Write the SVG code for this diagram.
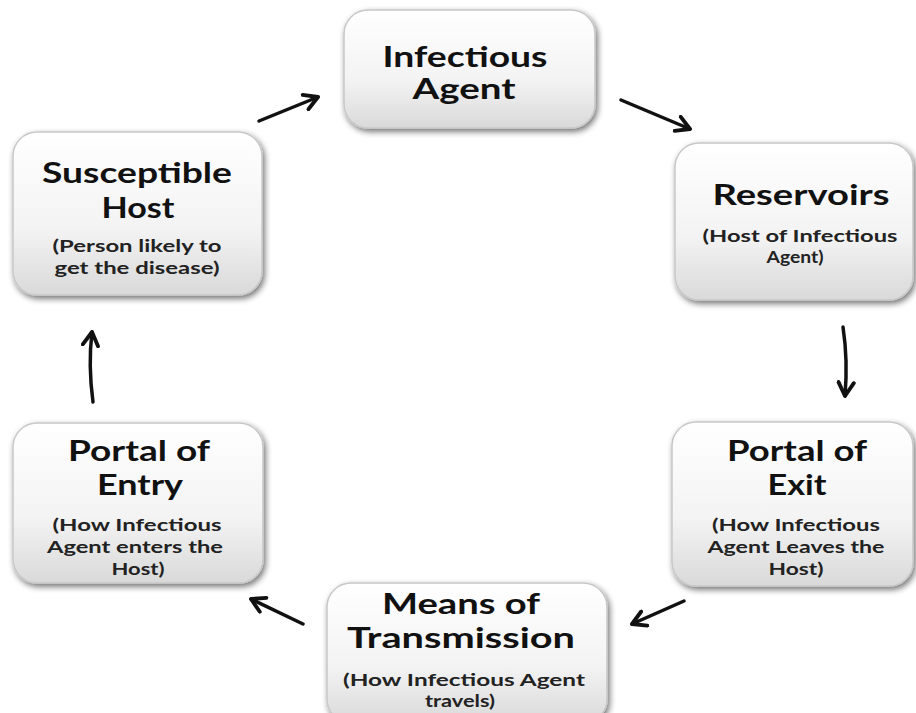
<svg xmlns="http://www.w3.org/2000/svg" width="916" height="713" viewBox="0 0 916 713">
<defs>
<linearGradient id="g" x1="0" y1="0" x2="0" y2="1">
<stop offset="0" stop-color="#ffffff"/>
<stop offset="0.6" stop-color="#f3f3f3"/>
<stop offset="1" stop-color="#d9d9d9"/>
</linearGradient>
<filter id="sh" x="-10%" y="-10%" width="125%" height="125%">
<feGaussianBlur in="SourceAlpha" stdDeviation="3"/>
<feOffset dx="2" dy="3" result="b"/>
<feComponentTransfer><feFuncA type="linear" slope="0.55"/></feComponentTransfer>
<feMerge><feMergeNode/><feMergeNode in="SourceGraphic"/></feMerge>
</filter>
<marker id="ah" viewBox="0 0 10 10" refX="8" refY="5" markerWidth="5.5" markerHeight="5.5" orient="auto" markerUnits="strokeWidth">
<path d="M1,1 L8,5 L1,9" fill="none" stroke="#111" stroke-width="2" stroke-linecap="round" stroke-linejoin="round"/>
</marker>
</defs>
<style>
.box{fill:url(#g);stroke:#c8c8c8;stroke-width:1.5;filter:url(#sh)}
.t{font-family:Lato,"Open Sans","Liberation Sans",sans-serif;font-weight:bold;font-size:28px;fill:#111;text-anchor:middle}
.s{font-family:Lato,"Open Sans","Liberation Sans",sans-serif;font-weight:bold;font-size:17px;fill:#222;text-anchor:middle}
.c{fill:none;stroke:#111;stroke-width:3.5;stroke-linecap:round;marker-end:url(#ah)}
</style>
<rect width="916" height="713" fill="#fff"/>
<g id="infectious-agent">
<rect class="box" x="344" y="10" width="251" height="118" rx="24"/>
<text class="t" x="465" y="67" textLength="165" lengthAdjust="spacingAndGlyphs">Infectious</text>
<text class="t" x="464" y="99" textLength="103" lengthAdjust="spacingAndGlyphs">Agent</text>
</g>
<g id="reservoirs">
<rect class="box" x="675" y="143" width="238" height="157" rx="24"/>
<text class="t" x="801" y="205" textLength="177" lengthAdjust="spacingAndGlyphs">Reservoirs</text>
<text class="s" x="800" y="242" textLength="195" lengthAdjust="spacingAndGlyphs">(Host of Infectious</text>
<text class="s" x="795" y="263" textLength="57" lengthAdjust="spacingAndGlyphs">Agent)</text>
</g>
<g id="portal-exit">
<rect class="box" x="672" y="422" width="241" height="164" rx="24"/>
<text class="t" x="797" y="461" textLength="140" lengthAdjust="spacingAndGlyphs">Portal of</text>
<text class="t" x="797" y="495" textLength="59" lengthAdjust="spacingAndGlyphs">Exit</text>
<text class="s" x="796" y="531" textLength="168" lengthAdjust="spacingAndGlyphs">(How Infectious</text>
<text class="s" x="796" y="553" textLength="177" lengthAdjust="spacingAndGlyphs">Agent Leaves the</text>
<text class="s" x="796" y="575" textLength="55" lengthAdjust="spacingAndGlyphs">Host)</text>
</g>
<g id="means-transmission">
<rect class="box" x="327" y="583" width="280" height="140" rx="24"/>
<text class="t" x="461" y="614" textLength="158" lengthAdjust="spacingAndGlyphs">Means of</text>
<text class="t" x="461" y="648" textLength="228" lengthAdjust="spacingAndGlyphs">Transmission</text>
<text class="s" x="464" y="686" textLength="242" lengthAdjust="spacingAndGlyphs">(How Infectious Agent</text>
<text class="s" x="460" y="707" textLength="70" lengthAdjust="spacingAndGlyphs">travels)</text>
</g>
<g id="portal-entry">
<rect class="box" x="13" y="423" width="250" height="160" rx="24"/>
<text class="t" x="139" y="461" textLength="142" lengthAdjust="spacingAndGlyphs">Portal of</text>
<text class="t" x="140" y="495" textLength="86" lengthAdjust="spacingAndGlyphs">Entry</text>
<text class="s" x="137" y="531" textLength="169" lengthAdjust="spacingAndGlyphs">(How Infectious</text>
<text class="s" x="135" y="553" textLength="176" lengthAdjust="spacingAndGlyphs">Agent enters the</text>
<text class="s" x="138" y="575" textLength="53" lengthAdjust="spacingAndGlyphs">Host)</text>
</g>
<g id="susceptible-host">
<rect class="box" x="13" y="132" width="249" height="163" rx="24"/>
<text class="t" x="137" y="183" textLength="190" lengthAdjust="spacingAndGlyphs">Susceptible</text>
<text class="t" x="138" y="218" textLength="73" lengthAdjust="spacingAndGlyphs">Host</text>
<text class="s" x="137" y="252" textLength="169" lengthAdjust="spacingAndGlyphs">(Person likely to</text>
<text class="s" x="137" y="274" textLength="165" lengthAdjust="spacingAndGlyphs">get the disease)</text>
</g>
<g id="connectors">
<path class="c" d="M259,121 L318,97"/>
<path class="c" d="M621,100 L690,129"/>
<path class="c" d="M843,327 Q848,360 845,396"/>
<path class="c" d="M684,601 L632,624"/>
<path class="c" d="M303,624 L251,599"/>
<path class="c" d="M93,402 Q88,365 92,332"/>
</g>
</svg>
